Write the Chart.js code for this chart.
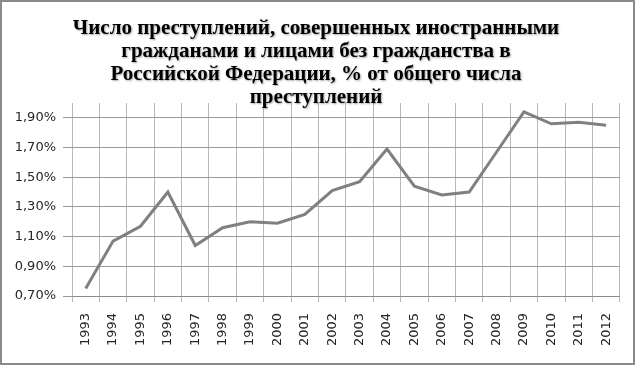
<!DOCTYPE html>
<html>
<head>
<meta charset="utf-8">
<script src="https://cdn.jsdelivr.net/npm/chart.js@4/dist/chart.umd.min.js"></script>
<style>
  html, body { margin: 0; padding: 0; background: #fff; }
  #wrap { width: 635px; height: 365px; box-sizing: border-box; border: 2px solid #8a8a8a; background: #fff; }
  canvas { display: block; }
</style>
</head>
<body>
<div id="wrap"><canvas id="c" width="631" height="361"></canvas></div>
<script>
const years = ['1993','1994','1995','1996','1997','1998','1999','2000','2001','2002',
               '2003','2004','2005','2006','2007','2008','2009','2010','2011','2012'];
const sharePercent = [0.75, 1.07, 1.17, 1.40, 1.04, 1.16, 1.20, 1.19, 1.25, 1.41,
                      1.47, 1.69, 1.44, 1.38, 1.40, 1.67, 1.94, 1.86, 1.87, 1.85];
const yTickValues = [0.70, 0.90, 1.10, 1.30, 1.50, 1.70, 1.90];
const titleLines = [
  'Число преступлений, совершенных иностранными',
  'гражданами и лицами без гражданства в',
  'Российской Федерации, % от общего числа',
  'преступлений'
];

const titlePlugin = {
  id: 'titleLines',
  afterDraw(chart) {
    const ctx = chart.ctx;
    ctx.save();
    ctx.font = 'bold 21px "Liberation Serif", "Times New Roman", serif';
    ctx.textAlign = 'center';
    ctx.textBaseline = 'alphabetic';
    ctx.fillStyle = '#000';
    ctx.shadowColor = 'rgba(0,0,0,0.35)';
    ctx.shadowBlur = 2;
    ctx.shadowOffsetX = 1;
    ctx.shadowOffsetY = 1;
    const cx = 314;
    titleLines.forEach((t, i) => ctx.fillText(t, cx, 32 + i * 23));
    ctx.restore();
  }
};

new Chart(document.getElementById('c'), {
  type: 'line',
  data: {
    labels: years,
    datasets: [{
      data: sharePercent,
      borderColor: '#808080',
      borderWidth: 3,
      pointRadius: 0,
      tension: 0,
      fill: false
    }]
  },
  options: {
    responsive: false,
    animation: false,
    layout: { padding: { left: 0, right: 11, top: 101, bottom: 0 } },
    plugins: { legend: { display: false }, title: { display: false }, tooltip: { enabled: false } },
    scales: {
      x: {
        type: 'category',
        offset: true,
        grid: { offset: true, color: '#b8b8b8', lineWidth: 1, tickLength: 6, drawTicks: true },
        border: { display: true, color: '#8c8c8c', width: 1 },
        ticks: {
          minRotation: 90, maxRotation: 90, autoSkip: false, padding: 11,
          color: '#262626', font: { family: '"DejaVu Sans"', size: 13 }
        },
        afterFit(scale) { scale.height = 67; }
      },
      y: {
        min: 0.7, max: 2.0,
        grid: { color: '#9a9a9a', lineWidth: 1, tickLength: 9 },
        border: { display: false },
        afterBuildTicks(scale) {
          scale.ticks = yTickValues.map(v => ({ value: v }));
        },
        ticks: {
          padding: 7,
          color: '#262626',
          font: { family: '"DejaVu Sans"', size: 13 },
          callback: (v) => Number(v).toFixed(2).replace('.', ',') + '%'
        },
        afterFit(scale) { scale.width = 70; }
      }
    }
  },
  plugins: [titlePlugin]
});
</script>
</body>
</html>
